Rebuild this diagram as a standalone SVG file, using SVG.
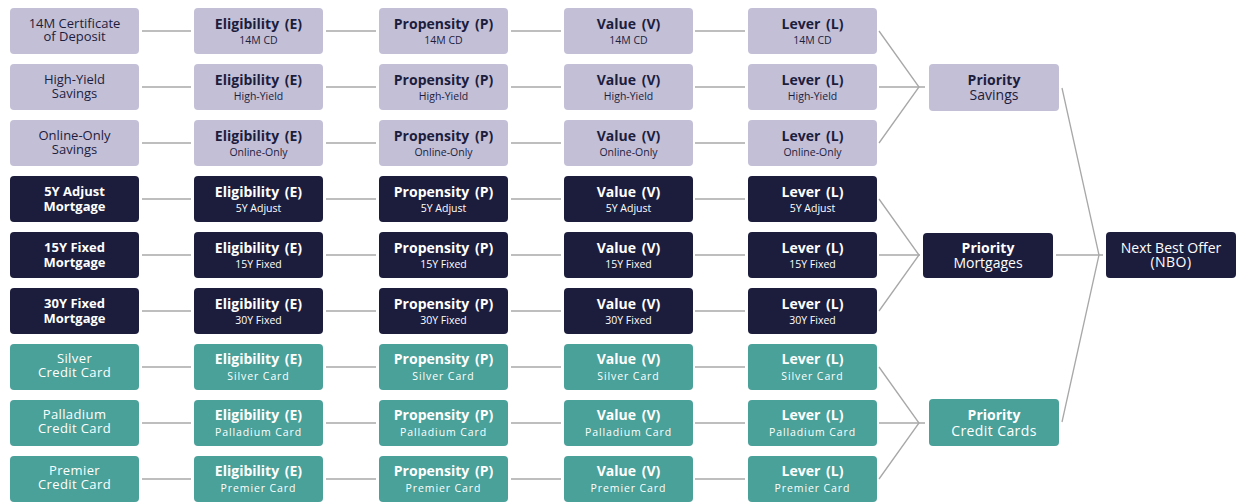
<svg xmlns="http://www.w3.org/2000/svg" width="1238" height="502" viewBox="0 0 1238 502">
<style>
rect{rx:4;ry:4}
.lav rect{fill:#c3bfd7}
.nav rect{fill:#1c1d3d}
.teal rect{fill:#49a19a}
text{font-family:"Open Sans","Liberation Sans",sans-serif;text-anchor:middle}
.lav text{fill:#1c1d3d}
.nav text,.teal text{fill:#ffffff}
.t{font-size:14px;font-weight:bold;word-spacing:2px}
.s{font-size:10.5px}
.teal .s{letter-spacing:0.9px}
.h{font-size:13px}
.nav .h{font-weight:bold}
.teal .h{letter-spacing:0.4px}
.p{font-size:14px}
.pb{font-size:14px;font-weight:bold}
#connectors line,#connectors polyline{stroke:#a8a8a8;stroke-width:1.3;fill:none}
</style>
<g id="connectors">
<line x1="142" y1="31" x2="191" y2="31"/><line x1="326" y1="31" x2="376" y2="31"/><line x1="511" y1="31" x2="561" y2="31"/><line x1="695" y1="31" x2="745" y2="31"/>
<line x1="142" y1="87" x2="191" y2="87"/><line x1="326" y1="87" x2="376" y2="87"/><line x1="511" y1="87" x2="561" y2="87"/><line x1="695" y1="87" x2="745" y2="87"/>
<line x1="142" y1="143" x2="191" y2="143"/><line x1="326" y1="143" x2="376" y2="143"/><line x1="511" y1="143" x2="561" y2="143"/><line x1="695" y1="143" x2="745" y2="143"/>
<line x1="142" y1="199" x2="191" y2="199"/><line x1="326" y1="199" x2="376" y2="199"/><line x1="511" y1="199" x2="561" y2="199"/><line x1="695" y1="199" x2="745" y2="199"/>
<line x1="142" y1="255" x2="191" y2="255"/><line x1="326" y1="255" x2="376" y2="255"/><line x1="511" y1="255" x2="561" y2="255"/><line x1="695" y1="255" x2="745" y2="255"/>
<line x1="142" y1="311" x2="191" y2="311"/><line x1="326" y1="311" x2="376" y2="311"/><line x1="511" y1="311" x2="561" y2="311"/><line x1="695" y1="311" x2="745" y2="311"/>
<line x1="142" y1="367" x2="191" y2="367"/><line x1="326" y1="367" x2="376" y2="367"/><line x1="511" y1="367" x2="561" y2="367"/><line x1="695" y1="367" x2="745" y2="367"/>
<line x1="142" y1="423" x2="191" y2="423"/><line x1="326" y1="423" x2="376" y2="423"/><line x1="511" y1="423" x2="561" y2="423"/><line x1="695" y1="423" x2="745" y2="423"/>
<line x1="142" y1="479" x2="191" y2="479"/><line x1="326" y1="479" x2="376" y2="479"/><line x1="511" y1="479" x2="561" y2="479"/><line x1="695" y1="479" x2="745" y2="479"/>
<polyline points="879,31 919,87 879,143"/><line x1="879" y1="87" x2="925" y2="87"/>
<polyline points="879,199 919,255 879,311"/><line x1="879" y1="255" x2="920" y2="255"/>
<polyline points="879,367 919,423 879,479"/><line x1="879" y1="423" x2="925" y2="423"/>
<polyline points="1062,88 1099,255 1062,422"/><line x1="1056" y1="255" x2="1103" y2="255"/>
</g>
<g id="n-cd" class="lav"><rect x="10" y="8" width="129" height="46"/><text class="h" x="74.5" y="28">14M Certificate</text><text class="h" x="74.5" y="41">of Deposit</text></g>
<g id="e-cd" class="lav"><rect x="194" y="8" width="129" height="46"/><text class="t" x="258.5" y="29">Eligibility (E)</text><text class="s" x="258.5" y="44">14M CD</text></g>
<g id="p-cd" class="lav"><rect x="379" y="8" width="129" height="46"/><text class="t" x="443.5" y="29">Propensity (P)</text><text class="s" x="443.5" y="44">14M CD</text></g>
<g id="v-cd" class="lav"><rect x="564" y="8" width="129" height="46"/><text class="t" x="628.5" y="29">Value (V)</text><text class="s" x="628.5" y="44">14M CD</text></g>
<g id="l-cd" class="lav"><rect x="748" y="8" width="129" height="46"/><text class="t" x="812.5" y="29">Lever (L)</text><text class="s" x="812.5" y="44">14M CD</text></g>

<g id="n-hy" class="lav"><rect x="10" y="64" width="129" height="46"/><text class="h" x="74.5" y="84">High-Yield</text><text class="h" x="74.5" y="98">Savings</text></g>
<g id="e-hy" class="lav"><rect x="194" y="64" width="129" height="46"/><text class="t" x="258.5" y="85">Eligibility (E)</text><text class="s" x="258.5" y="100">High-Yield</text></g>
<g id="p-hy" class="lav"><rect x="379" y="64" width="129" height="46"/><text class="t" x="443.5" y="85">Propensity (P)</text><text class="s" x="443.5" y="100">High-Yield</text></g>
<g id="v-hy" class="lav"><rect x="564" y="64" width="129" height="46"/><text class="t" x="628.5" y="85">Value (V)</text><text class="s" x="628.5" y="100">High-Yield</text></g>
<g id="l-hy" class="lav"><rect x="748" y="64" width="129" height="46"/><text class="t" x="812.5" y="85">Lever (L)</text><text class="s" x="812.5" y="100">High-Yield</text></g>

<g id="n-oo" class="lav"><rect x="10" y="120" width="129" height="46"/><text class="h" x="74.5" y="140">Online-Only</text><text class="h" x="74.5" y="154">Savings</text></g>
<g id="e-oo" class="lav"><rect x="194" y="120" width="129" height="46"/><text class="t" x="258.5" y="141">Eligibility (E)</text><text class="s" x="258.5" y="156">Online-Only</text></g>
<g id="p-oo" class="lav"><rect x="379" y="120" width="129" height="46"/><text class="t" x="443.5" y="141">Propensity (P)</text><text class="s" x="443.5" y="156">Online-Only</text></g>
<g id="v-oo" class="lav"><rect x="564" y="120" width="129" height="46"/><text class="t" x="628.5" y="141">Value (V)</text><text class="s" x="628.5" y="156">Online-Only</text></g>
<g id="l-oo" class="lav"><rect x="748" y="120" width="129" height="46"/><text class="t" x="812.5" y="141">Lever (L)</text><text class="s" x="812.5" y="156">Online-Only</text></g>

<g id="n-5y" class="nav"><rect x="10" y="176" width="129" height="46"/><text class="h" x="74.5" y="196">5Y Adjust</text><text class="h" x="74.5" y="211">Mortgage</text></g>
<g id="e-5y" class="nav"><rect x="194" y="176" width="129" height="46"/><text class="t" x="258.5" y="197">Eligibility (E)</text><text class="s" x="258.5" y="212">5Y Adjust</text></g>
<g id="p-5y" class="nav"><rect x="379" y="176" width="129" height="46"/><text class="t" x="443.5" y="197">Propensity (P)</text><text class="s" x="443.5" y="212">5Y Adjust</text></g>
<g id="v-5y" class="nav"><rect x="564" y="176" width="129" height="46"/><text class="t" x="628.5" y="197">Value (V)</text><text class="s" x="628.5" y="212">5Y Adjust</text></g>
<g id="l-5y" class="nav"><rect x="748" y="176" width="129" height="46"/><text class="t" x="812.5" y="197">Lever (L)</text><text class="s" x="812.5" y="212">5Y Adjust</text></g>

<g id="n-15y" class="nav"><rect x="10" y="232" width="129" height="46"/><text class="h" x="74.5" y="252">15Y Fixed</text><text class="h" x="74.5" y="267">Mortgage</text></g>
<g id="e-15y" class="nav"><rect x="194" y="232" width="129" height="46"/><text class="t" x="258.5" y="253">Eligibility (E)</text><text class="s" x="258.5" y="268">15Y Fixed</text></g>
<g id="p-15y" class="nav"><rect x="379" y="232" width="129" height="46"/><text class="t" x="443.5" y="253">Propensity (P)</text><text class="s" x="443.5" y="268">15Y Fixed</text></g>
<g id="v-15y" class="nav"><rect x="564" y="232" width="129" height="46"/><text class="t" x="628.5" y="253">Value (V)</text><text class="s" x="628.5" y="268">15Y Fixed</text></g>
<g id="l-15y" class="nav"><rect x="748" y="232" width="129" height="46"/><text class="t" x="812.5" y="253">Lever (L)</text><text class="s" x="812.5" y="268">15Y Fixed</text></g>

<g id="n-30y" class="nav"><rect x="10" y="288" width="129" height="46"/><text class="h" x="74.5" y="308">30Y Fixed</text><text class="h" x="74.5" y="323">Mortgage</text></g>
<g id="e-30y" class="nav"><rect x="194" y="288" width="129" height="46"/><text class="t" x="258.5" y="309">Eligibility (E)</text><text class="s" x="258.5" y="324">30Y Fixed</text></g>
<g id="p-30y" class="nav"><rect x="379" y="288" width="129" height="46"/><text class="t" x="443.5" y="309">Propensity (P)</text><text class="s" x="443.5" y="324">30Y Fixed</text></g>
<g id="v-30y" class="nav"><rect x="564" y="288" width="129" height="46"/><text class="t" x="628.5" y="309">Value (V)</text><text class="s" x="628.5" y="324">30Y Fixed</text></g>
<g id="l-30y" class="nav"><rect x="748" y="288" width="129" height="46"/><text class="t" x="812.5" y="309">Lever (L)</text><text class="s" x="812.5" y="324">30Y Fixed</text></g>

<g id="n-si" class="teal"><rect x="10" y="344" width="129" height="46"/><text class="h" x="74.5" y="363">Silver</text><text class="h" x="74.5" y="377">Credit Card</text></g>
<g id="e-si" class="teal"><rect x="194" y="344" width="129" height="46"/><text class="t" x="258.5" y="364">Eligibility (E)</text><text class="s" x="258.5" y="380">Silver Card</text></g>
<g id="p-si" class="teal"><rect x="379" y="344" width="129" height="46"/><text class="t" x="443.5" y="364">Propensity (P)</text><text class="s" x="443.5" y="380">Silver Card</text></g>
<g id="v-si" class="teal"><rect x="564" y="344" width="129" height="46"/><text class="t" x="628.5" y="364">Value (V)</text><text class="s" x="628.5" y="380">Silver Card</text></g>
<g id="l-si" class="teal"><rect x="748" y="344" width="129" height="46"/><text class="t" x="812.5" y="364">Lever (L)</text><text class="s" x="812.5" y="380">Silver Card</text></g>

<g id="n-pa" class="teal"><rect x="10" y="400" width="129" height="46"/><text class="h" x="74.5" y="419">Palladium</text><text class="h" x="74.5" y="433">Credit Card</text></g>
<g id="e-pa" class="teal"><rect x="194" y="400" width="129" height="46"/><text class="t" x="258.5" y="420">Eligibility (E)</text><text class="s" x="258.5" y="436">Palladium Card</text></g>
<g id="p-pa" class="teal"><rect x="379" y="400" width="129" height="46"/><text class="t" x="443.5" y="420">Propensity (P)</text><text class="s" x="443.5" y="436">Palladium Card</text></g>
<g id="v-pa" class="teal"><rect x="564" y="400" width="129" height="46"/><text class="t" x="628.5" y="420">Value (V)</text><text class="s" x="628.5" y="436">Palladium Card</text></g>
<g id="l-pa" class="teal"><rect x="748" y="400" width="129" height="46"/><text class="t" x="812.5" y="420">Lever (L)</text><text class="s" x="812.5" y="436">Palladium Card</text></g>

<g id="n-pr" class="teal"><rect x="10" y="456" width="129" height="46"/><text class="h" x="74.5" y="475">Premier</text><text class="h" x="74.5" y="489">Credit Card</text></g>
<g id="e-pr" class="teal"><rect x="194" y="456" width="129" height="46"/><text class="t" x="258.5" y="476">Eligibility (E)</text><text class="s" x="258.5" y="492">Premier Card</text></g>
<g id="p-pr" class="teal"><rect x="379" y="456" width="129" height="46"/><text class="t" x="443.5" y="476">Propensity (P)</text><text class="s" x="443.5" y="492">Premier Card</text></g>
<g id="v-pr" class="teal"><rect x="564" y="456" width="129" height="46"/><text class="t" x="628.5" y="476">Value (V)</text><text class="s" x="628.5" y="492">Premier Card</text></g>
<g id="l-pr" class="teal"><rect x="748" y="456" width="129" height="46"/><text class="t" x="812.5" y="476">Lever (L)</text><text class="s" x="812.5" y="492">Premier Card</text></g>

<g id="prio-sav" class="lav"><rect x="929" y="64" width="130" height="47"/><text class="pb" x="994" y="85">Priority</text><text class="p" x="994" y="100">Savings</text></g>
<g id="prio-mort" class="nav"><rect x="923" y="233" width="130" height="45"/><text class="pb" x="988" y="253">Priority</text><text class="p" x="988" y="268">Mortgages</text></g>
<g id="prio-cc" class="teal"><rect x="929" y="399" width="130" height="47"/><text class="pb" x="994" y="420">Priority</text><text class="p" x="994" y="436" style="letter-spacing:0.4px">Credit Cards</text></g>
<g id="nbo" class="nav"><rect x="1106" y="232" width="130" height="46"/><text class="p" x="1171" y="253">Next Best Offer</text><text class="p" x="1171" y="267" style="letter-spacing:0.5px">(NBO)</text></g>
</svg>
